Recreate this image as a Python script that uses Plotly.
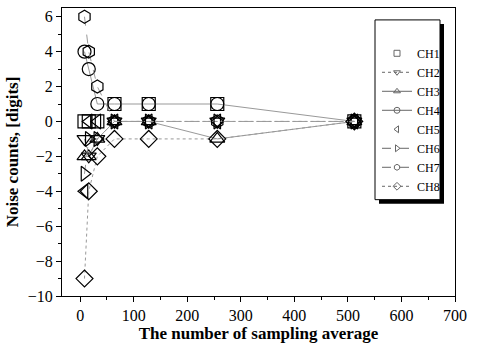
import plotly.graph_objects as go

x_avg = [8, 16, 32, 64, 128, 256, 512]
names = ["CH1", "CH2", "CH3", "CH4", "CH5", "CH6", "CH7", "CH8"]
ch1 = [0, 0, 0, 1, 1, 1, 0]
ch2 = [-1, -2, -1, 0, 0, 0, 0]
ch3 = [-2, -2, -1, 0, 0, -1, 0]
ch4 = [4, 3, 1, 1, 1, 1, 0]
ch5 = [-4, 0, 0, 0, 0, 0, 0]
ch6 = [-3, -1, -1, 0, 0, 0, 0]
ch7 = [6, 4, 2, 0, 0, 0, 0]
ch8 = [-9, -4, -2, -1, -1, -1, 0]
series = [ch1, ch2, ch3, ch4, ch5, ch6, ch7, ch8]
symbols = ["square-open", "triangle-down-open", "triangle-up-open", "circle-open",
           "triangle-left-open", "triangle-right-open", "hexagon-open", "diamond-open"]
dashes = [None, "dot", "solid", "solid", None, "dash", "dash", "dot"]

FONT = "Liberation Serif"
fig = go.Figure()
for name, y, sym, d in zip(names, series, symbols, dashes):
    mode = "markers" if d is None else "lines+markers"
    fig.add_trace(go.Scatter(
        x=x_avg, y=y, mode=mode, showlegend=False,
        marker=dict(symbol=sym, size=13, color="black", line=dict(width=1.2, color="black")),
        line=dict(color="#999999", width=1, dash=d or "solid"),
    ))
# legend entries (small symbols)
for name, sym, d in zip(names, symbols, dashes):
    mode = "markers" if d is None else "lines+markers"
    fig.add_trace(go.Scatter(
        x=[None], y=[None], mode=mode, name=name,
        marker=dict(symbol=sym, size=6, color="#666666", line=dict(width=1, color="#666666")),
        line=dict(color="#666666", width=1, dash=d or "solid"),
    ))

L, R, T, B = 62, 455, 7, 297
W, H = 477, 345
def px(xp):
    return (xp - L) / (R - L)
def py(yp):
    return (B - yp) / (B - T)

shapes = [
    dict(type="rect", xref="paper", yref="paper", x0=px(379), x1=px(444), y0=py(204), y1=py(23),
         fillcolor="black", line=dict(width=0), layer="above"),
    dict(type="rect", xref="paper", yref="paper", x0=px(375), x1=px(440), y0=py(200), y1=py(19),
         fillcolor="white", line=dict(width=1, color="black"), layer="above"),
]

fig.update_layout(
    width=W, height=H,
    margin=dict(l=L, r=W - R, t=T, b=H - B),
    paper_bgcolor="white", plot_bgcolor="white",
    font=dict(family=FONT, size=14, color="black"),
    shapes=shapes,
    showlegend=True,
    legend=dict(x=px(377), y=py(38), xanchor="left", yanchor="top",
                bgcolor="rgba(0,0,0,0)", borderwidth=0,
                font=dict(family=FONT, size=12, color="black"),
                tracegroupgap=0, itemwidth=30),
    xaxis=dict(range=[-34, 700], tickvals=[0, 100, 200, 300, 400, 500, 600, 700],
               showline=True, linecolor="black", linewidth=1, mirror=True,
               ticks="outside", ticklen=5, tickcolor="black",
               minor=dict(dtick=50, ticks="outside", ticklen=3, tickcolor="black"),
               showgrid=False, zeroline=False,
               tickfont=dict(family=FONT, size=16),
               title=dict(text="<b>The number of sampling average</b>",
                          font=dict(family=FONT, size=17), standoff=2)),
    yaxis=dict(range=[-10, 6.5], tickvals=[-10, -8, -6, -4, -2, 0, 2, 4, 6],
               showline=True, linecolor="black", linewidth=1, mirror=True,
               ticks="outside", ticklen=5, tickcolor="black",
               minor=dict(dtick=1, ticks="outside", ticklen=3, tickcolor="black"),
               showgrid=False, zeroline=False,
               tickfont=dict(family=FONT, size=16),
               title=dict(text="<b>Noise counts, [digits]</b>",
                          font=dict(family=FONT, size=17), standoff=4)),
)
fig.write_html("out.html")
